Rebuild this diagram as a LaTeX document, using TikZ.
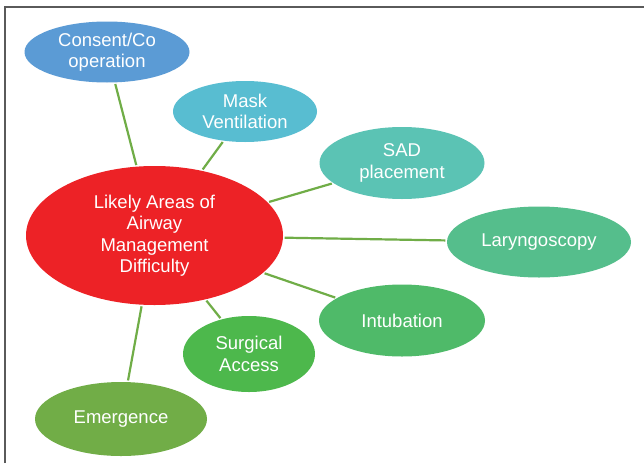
\documentclass[tikz,border=0pt]{standalone}
\usepackage{fontspec}
\setmainfont{Liberation Sans}
\usetikzlibrary{shapes.geometric}
\definecolor{cred}{HTML}{ED2226}
\definecolor{cblue}{HTML}{5B9BD5}
\definecolor{cmask}{HTML}{58BDD1}
\definecolor{csad}{HTML}{5BC3B4}
\definecolor{clar}{HTML}{55BE8C}
\definecolor{cint}{HTML}{4FBA69}
\definecolor{csur}{HTML}{4DB84C}
\definecolor{cem}{HTML}{71AD47}
\definecolor{cline}{HTML}{70AD47}
\definecolor{cframe}{HTML}{5A5A5A}
\tikzset{
  bubble/.style={ellipse, inner sep=0pt, text=white, align=center,
    font=\fontsize{18.5}{21.5}\selectfont},
  link/.style={draw=cline, line width=2.2pt, shorten <=1.5pt, shorten >=1.5pt},
}
\begin{document}
\begin{tikzpicture}[x=1pt,y=-1pt]
\useasboundingbox (0,0) rectangle (644,463);
\fill[white] (0,0) rectangle (644,463);
\draw[cframe, line width=1.3pt] (5,463) -- (5,7) -- (644,7);
\node[bubble, fill=cred, minimum width=257pt, minimum height=139pt] (c) at (154.5,235.5) {Likely Areas of\\Airway\\Management\\Difficulty};
\node[bubble, fill=cblue, minimum width=165pt, minimum height=61pt] (a) at (107,52) {Consent/Co\\operation};
\node[bubble, fill=cmask, minimum width=144pt, minimum height=61pt] (b) at (245,111.5) {Mask\\Ventilation};
\node[bubble, fill=csad, minimum width=165pt, minimum height=72pt] (s) at (402,163) {SAD\\placement};
\node[bubble, fill=clar, minimum width=184pt, minimum height=71pt] (l) at (539,242) {Laryngoscopy};
\node[bubble, fill=cint, minimum width=166pt, minimum height=72pt] (i) at (402,320.5) {Intubation};
\node[bubble, fill=csur, minimum width=132pt, minimum height=76pt] (g) at (249,354) {Surgical\\Access};
\node[bubble, fill=cem, minimum width=172pt, minimum height=74pt] (e) at (121,419) {Emergence};
\foreach \n in {a,b,s,l,i,g,e} \draw[link] (c) -- (\n);
\end{tikzpicture}
\end{document}
